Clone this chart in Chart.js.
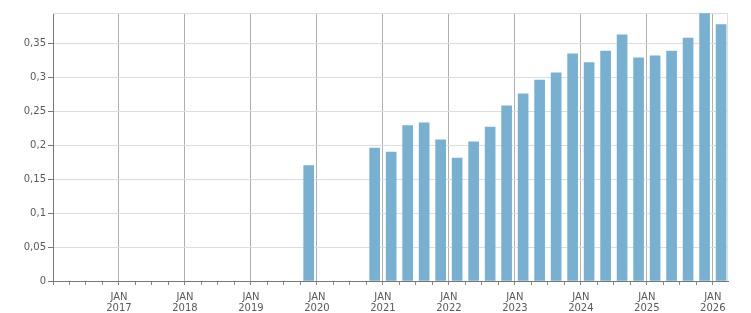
<!DOCTYPE html>
<html>
<head>
<meta charset="utf-8">
<script src="https://cdn.jsdelivr.net/npm/chart.js@4/dist/chart.umd.min.js"></script>
<style>
  html, body { margin: 0; padding: 0; background: #fff; }
  #wrap { width: 751px; height: 313px; }
</style>
</head>
<body>
<div id="wrap"><canvas id="chart"></canvas></div>
<script>
// quarterly values
const quarters = [
  '2019-Q4',
  '2020-Q4',
  '2021-Q1', '2021-Q2', '2021-Q3', '2021-Q4',
  '2022-Q1', '2022-Q2', '2022-Q3', '2022-Q4',
  '2023-Q1', '2023-Q2', '2023-Q3', '2023-Q4',
  '2024-Q1', '2024-Q2', '2024-Q3', '2024-Q4',
  '2025-Q1', '2025-Q2', '2025-Q3', '2025-Q4',
  '2026-Q1'
];
const values = [
  0.170,
  0.196,
  0.190, 0.229, 0.233, 0.208,
  0.181, 0.205, 0.227, 0.258,
  0.276, 0.296, 0.307, 0.335,
  0.322, 0.339, 0.363, 0.329,
  0.332, 0.339, 0.358, 0.394,
  0.378
];
const yTicks = [0, 0.05, 0.1, 0.15, 0.2, 0.25, 0.3, 0.35];
const xFirstYear = 2016;
const xLastYear = 2026.23;
const monthLabel = 'JAN';

// bar sits in the middle of its quarter
function quarterToX(q) {
  const [y, qq] = q.split('-Q');
  return Number(y) + (Number(qq) - 0.5) / 4;
}

const points = quarters.map((q, i) => ({ x: quarterToX(q), y: values[i] }));

const framePlugin = {
  id: 'frame',
  beforeDatasetsDraw(chart) {
    const { ctx, chartArea: a } = chart;
    ctx.save();
    ctx.strokeStyle = '#dddddd';
    ctx.lineWidth = 1;
    ctx.beginPath();
    ctx.moveTo(a.left, a.top + 0.5);
    ctx.lineTo(a.right - 0.5, a.top + 0.5);
    ctx.lineTo(a.right - 0.5, a.bottom);
    ctx.stroke();
    ctx.restore();
  }
};

const font = { family: 'DejaVu Sans', size: 10 };

new Chart(document.getElementById('chart'), {
  type: 'bar',
  data: {
    datasets: [{
      data: points,
      backgroundColor: '#78b0d2',
      borderWidth: 0,
      barThickness: 10
    }]
  },
  options: {
    responsive: true,
    maintainAspectRatio: false,
    animation: false,
    layout: { padding: { top: 13, right: 23, left: 0, bottom: 0 } },
    plugins: { legend: { display: false }, tooltip: { enabled: false } },
    scales: {
      x: {
        type: 'linear',
        min: xFirstYear,
        max: xLastYear,
        offset: false,
        afterFit(scale) { scale.height = 32; },
        ticks: {
          stepSize: 0.25,
          includeBounds: false,
          autoSkip: false,
          maxRotation: 0,
          padding: 7,
          color: '#5a5a5a',
          font: { family: 'DejaVu Sans', size: 10, lineHeight: 1.1 },
          callback: (v) => (Number.isInteger(v) && v > xFirstYear) ? [monthLabel, String(v)] : ''
        },
        grid: {
          offset: false,
          color: (c) => (c.tick && Number.isInteger(c.tick.value) && c.tick.value > xFirstYear) ? '#b0b0b0' : 'rgba(0,0,0,0)',
          tickColor: '#888888',
          tickLength: 4,
          lineWidth: 1
        },
        border: { color: '#777777', width: 1 }
      },
      y: {
        min: 0,
        max: 0.395,
        afterFit(scale) { scale.width = 53; },
        afterBuildTicks(scale) { scale.ticks = yTicks.map(v => ({ value: v })); },
        ticks: {
          padding: 2,
          color: '#5a5a5a',
          font: font,
          callback: (v) => String(+v.toFixed(2)).replace('.', ',')
        },
        grid: {
          color: '#dddddd',
          tickColor: '#777777',
          tickLength: 5
        },
        border: { color: '#777777', width: 1 }
      }
    }
  },
  plugins: [framePlugin]
});
</script>
</body>
</html>
